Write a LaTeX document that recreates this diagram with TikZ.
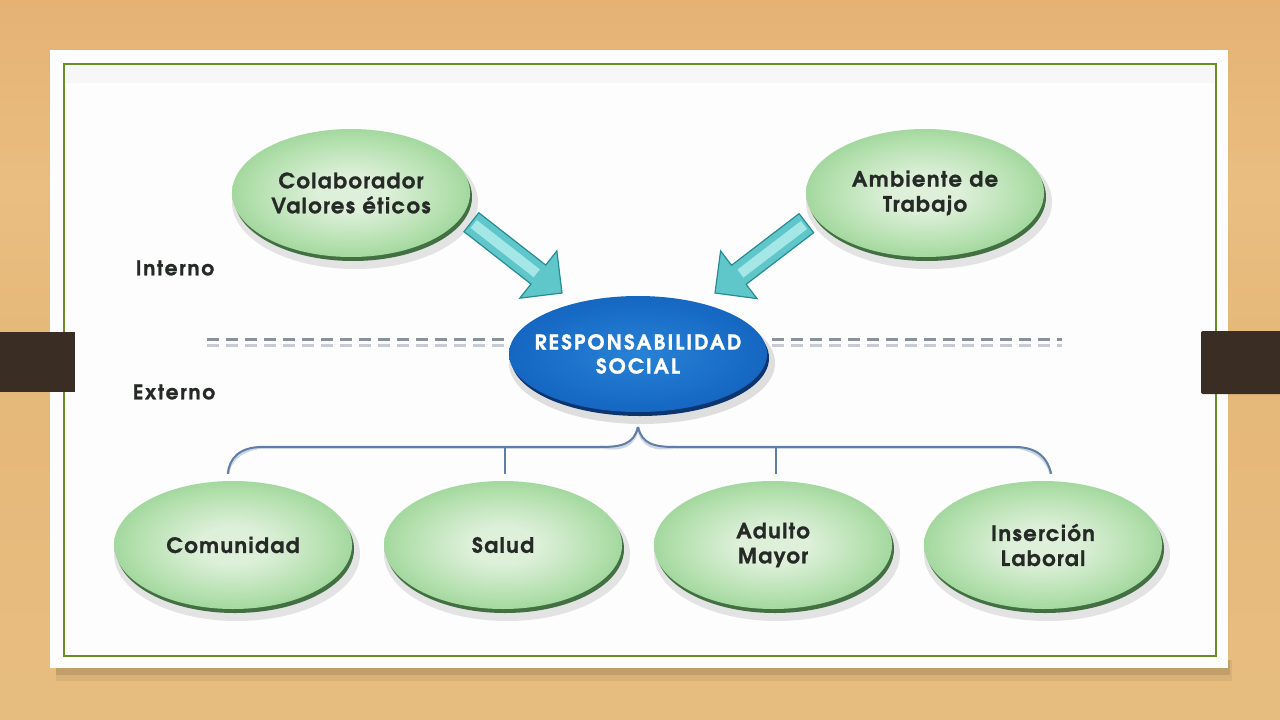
\documentclass[tikz,border=0pt]{standalone}
\usepackage{fontspec}
\setmainfont{texgyreadventor}[Extension=.otf, UprightFont=*-regular, BoldFont=*-bold, ItalicFont=*-italic, BoldItalicFont=*-bolditalic, BoldFeatures={FakeBold=1.2}]
\usetikzlibrary{shapes.geometric,calc}
\definecolor{w0}{RGB}{234,200,142}
\definecolor{w1}{RGB}{232,194,132}
\definecolor{w2}{RGB}{231,188,126}
\definecolor{w3}{RGB}{229,184,121}
\definecolor{w4}{RGB}{233,190,128}
\definecolor{w5}{RGB}{229,178,116}
\definecolor{w6}{RGB}{236,200,146}
\definecolor{w7}{RGB}{240,210,158}
\definecolor{panelc}{RGB}{253,253,253}
\definecolor{framec}{RGB}{108,140,38}
\definecolor{barc}{RGB}{58,46,36}
\definecolor{gIn}{RGB}{222,240,218}
\definecolor{gMid}{RGB}{178,223,172}
\definecolor{gOut}{RGB}{134,202,132}
\definecolor{grim}{RGB}{66,112,66}
\definecolor{bIn}{RGB}{40,130,212}
\definecolor{bMid}{RGB}{24,108,198}
\definecolor{bOut}{RGB}{16,92,182}
\definecolor{brim}{RGB}{12,52,110}
\definecolor{txtdark}{RGB}{38,42,38}
\definecolor{treeblue}{RGB}{95,125,165}
\definecolor{treelight}{RGB}{205,215,228}
\definecolor{teal1}{RGB}{95,198,202}
\definecolor{teal2}{RGB}{40,140,148}
\definecolor{teal3}{RGB}{165,230,230}
\definecolor{dashgray}{RGB}{135,145,158}
\definecolor{dashlight}{RGB}{198,203,212}
\pgfdeclareverticalshading{woodsh}{100bp}{color(0bp)=(w0); color(10bp)=(w1); color(30bp)=(w2); color(50bp)=(w3); color(62bp)=(w4); color(75bp)=(w5); color(88bp)=(w6); color(95bp)=(w7); color(100bp)=(w6)}
\pgfdeclareradialshading{greensh}{\pgfpoint{0bp}{0bp}}{color(0bp)=(gIn); color(7bp)=(gIn); color(21bp)=(gMid); color(33bp)=(gOut); color(50bp)=(gOut)}
\pgfdeclareradialshading{bluesh}{\pgfpoint{0bp}{0bp}}{color(0bp)=(bIn); color(20bp)=(bMid); color(35bp)=(bOut); color(50bp)=(bOut)}
\begin{document}
\begin{tikzpicture}[x=1pt,y=-1pt,
  gell/.style={ellipse, minimum width=238pt, minimum height=128pt, inner sep=0pt, shading=greensh, align=center, text=txtdark, font=\bfseries\fontsize{21}{25}\selectfont\addfontfeatures{LetterSpace=7}},
  bell/.style={ellipse, minimum width=258pt, minimum height=116pt, inner xsep=-40pt, inner ysep=0pt, shading=bluesh, align=center, text=white, font=\bfseries\fontsize{20.5}{24}\selectfont\addfontfeatures{LetterSpace=10}},
  sidelabel/.style={font=\bfseries\fontsize{20}{24}\selectfont\addfontfeatures{LetterSpace=9}, text=txtdark},
  tree/.style={draw=treeblue, line width=2pt},
  treeshadow/.style={draw=treelight, line width=3pt},
  blockarrow/.style={fill=teal1, draw=teal2, line width=1.2pt, line join=miter},
  dashline/.style={draw=dashgray, line width=3pt, dash pattern=on 12pt off 7pt},
  dashshadow/.style={draw=dashlight, line width=3pt, dash pattern=on 12pt off 7pt}
]
\useasboundingbox (0,0) rectangle (1280,720);
% background
\shade[shading=woodsh] (0,0) rectangle (1280,720);
% panel with shadow
\fill[black, opacity=0.06] (56,660) rectangle (1232,681);
\fill[black, opacity=0.10] (56,660) rectangle (1230,675);
\fill[panelc] (50,50) rectangle (1228,668);
\fill[black!3] (64,64) rectangle (1215,83);
\draw[framec, line width=2pt] (63.5,63.5) rectangle (1215.5,655.5);
% bars
\fill[barc] (0,332) rectangle (75,392);
\fill[barc, rounded corners=2pt] (1201,331) rectangle (1290,394);
% positions
\coordinate (pcol) at (351,193);
\coordinate (pamb) at (925,193);
\coordinate (psoc) at (638,354);
\coordinate (pcom) at (233,545);
\coordinate (psal) at (503,545);
\coordinate (padu) at (773,545);
\coordinate (pins) at (1043,545);
% shadows
\foreach \p in {pcol,pamb,pcom,psal,padu,pins}{
  \fill[black, opacity=0.10] ($(\p)+(4,9)$) ellipse [x radius=123pt, y radius=67pt];
  \fill[grim] ($(\p)+(2,4)$) ellipse [x radius=119pt, y radius=64pt];
}
\fill[black, opacity=0.12] ($(psoc)+(4,9)$) ellipse [x radius=133pt, y radius=61pt];
\fill[brim] ($(psoc)+(2,4)$) ellipse [x radius=129pt, y radius=58pt];
% dashed separator
\coordinate (dL1) at (207,339);
\coordinate (dL2) at (505,339);
\coordinate (dR1) at (772,339);
\coordinate (dR2) at (1062,339);
\draw[dashshadow] ([yshift=-6pt]dL1) -- ([yshift=-6pt]dL2);
\draw[dashshadow] ([yshift=-6pt]dR1) -- ([yshift=-6pt]dR2);
\draw[dashline] (dL1) -- (dL2);
\draw[dashline] (dR1) -- (dR2);
% nodes
\node[gell] (col) at (pcol) {Colaborador\\Valores éticos};
\node[gell] (amb) at (pamb) {Ambiente de\\Trabajo};
\node[bell] (soc) at (psoc) {RESPONSABILIDAD\\SOCIAL};
\node[gell] (com) at (pcom) {Comunidad};
\node[gell] (sal) at (psal) {Salud};
\node[gell] (adu) at (padu) {Adulto\\Mayor};
\node[gell] (ins) at (pins) {Inserción\\Laboral};
\node[sidelabel] (interno) at (175,268) {Interno};
\node[sidelabel] (externo) at (174,392) {Externo};
% block arrows
\begin{scope}[shift={(562,293)}, rotate=-38]
  \filldraw[blockarrow] (0,0) -- (-30,30) -- (-30,12) -- (-115,12) -- (-115,-12) -- (-30,-12) -- (-30,-30) -- cycle;
  \fill[teal3] (-112,-5) rectangle (-32,5);
\end{scope}
\begin{scope}[shift={(715,293)}, rotate=217.4]
  \filldraw[blockarrow] (0,0) -- (-30,30) -- (-30,12) -- (-115,12) -- (-115,-12) -- (-30,-12) -- (-30,-30) -- cycle;
  \fill[teal3] (-112,-5) rectangle (-32,5);
\end{scope}
% tree connectors
\coordinate (junc) at (638,427);
\coordinate (hL) at (600,447);
\coordinate (hLe) at (262,447);
\coordinate (hR) at (676,447);
\coordinate (hRe) at (1015,447);
\coordinate (hS) at (505,447);
\coordinate (hA) at (776,447);
\begin{scope}[yshift=-3pt]
\draw[treeshadow] (junc) .. controls (634,444) and (622,447) .. (hL) -- (hLe) .. controls (240,447) and (229,458) .. ([shift={(-5,-7)}]com.north);
\draw[treeshadow] (junc) .. controls (642,444) and (654,447) .. (hR) -- (hRe) .. controls (1037,447) and (1048,458) .. ([shift={(8,-7)}]ins.north);
\end{scope}
\draw[tree] (junc) .. controls (634,444) and (622,447) .. (hL) -- (hLe) .. controls (240,447) and (229,458) .. ([shift={(-5,-7)}]com.north);
\draw[tree] (junc) .. controls (642,444) and (654,447) .. (hR) -- (hRe) .. controls (1037,447) and (1048,458) .. ([shift={(8,-7)}]ins.north);
\draw[tree] (hS) -- ([shift={(2,-7)}]sal.north);
\draw[tree] (hA) -- ([shift={(3,-7)}]adu.north);
\end{tikzpicture}
\end{document}
